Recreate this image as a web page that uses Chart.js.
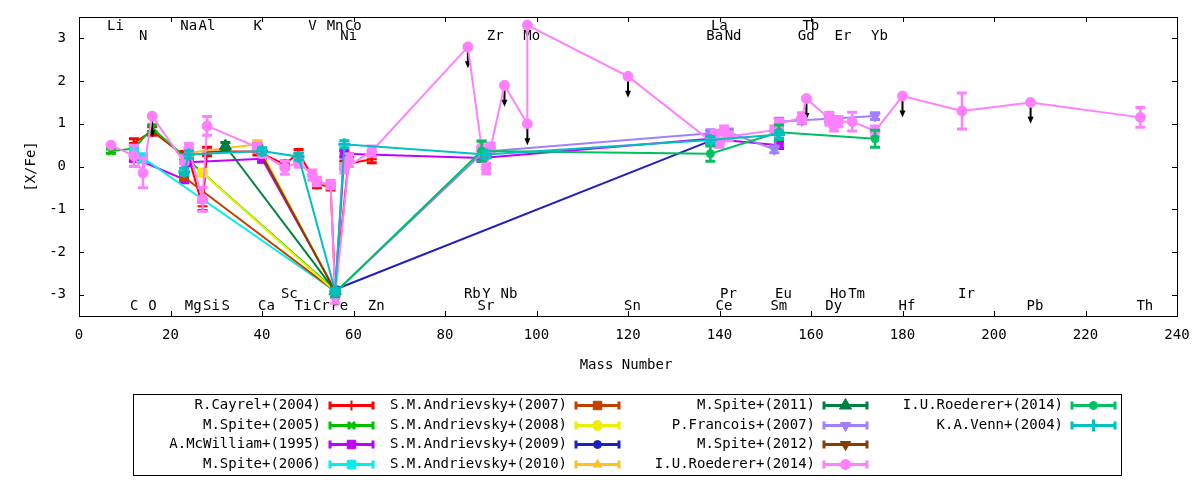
<!DOCTYPE html>
<html lang="en">
<head>
<meta charset="UTF-8">
<title>[X/Fe] vs Mass Number</title>
<script src="https://cdn.jsdelivr.net/npm/chart.js@4.4.1/dist/chart.umd.min.js"></script>
<style>
  body { margin: 0; background: #fff; }
  #wrap { width: 1200px; height: 480px; }
</style>
</head>
<body>
<div id="wrap"><canvas id="grafico" width="1200" height="480"></canvas></div>
<script>
  // axis ticks
  const xTicks = [0, 20, 40, 60, 80, 100, 120, 140, 160, 180, 200, 220, 240];
  const yTicks = [-3, -2, -1, 0, 1, 2, 3];

  // element labels (mass number where the label sits)
  const topRow1Names = ['Li', 'Na', 'Al', 'K', 'V', 'Mn', 'Co', 'La', 'Tb'];
  const topRow1Mass = [7, 23, 27, 39, 51, 55, 59, 139, 159];
  const topRow2Names = ['N', 'Ni', 'Zr', 'Mo', 'Ba', 'Nd', 'Gd', 'Er', 'Yb'];
  const topRow2Mass = [14, 58, 90, 98, 138, 142, 158, 166, 174];
  const botRow1Names = ['Sc', 'Rb', 'Y', 'Nb', 'Pr', 'Eu', 'Ho', 'Tm', 'Ir'];
  const botRow1Mass = [45, 85, 89, 93, 141, 153, 165, 169, 193];
  const botRow2Names = ['C', 'O', 'Mg', 'Si', 'S', 'Ca', 'Ti', 'Cr', 'Fe', 'Zn', 'Sr', 'Sn', 'Ce', 'Sm', 'Dy', 'Hf', 'Pb', 'Th'];
  const botRow2Mass = [12, 16, 24, 28, 32, 40, 48, 52, 56, 64, 88, 120, 140, 152, 164, 180, 208, 232];

  // R.Cayrel+(2004)
  const cayrelMass = [12, 16, 23, 24, 27, 28, 39, 40, 45, 48, 52, 55, 56, 59, 58, 64];
  const cayrelXFe = [0.55, 0.83, 0.25, 0.20, -0.93, 0.35, 0.35, 0.30, 0.05, 0.32, -0.42, -0.47, -2.90, 0.22, 0.05, 0.17];
  const cayrelErr = [0.10, 0.10, 0.10, 0.08, 0.10, 0.10, 0.08, 0.08, 0.08, 0.08, 0.08, 0.08, 0.05, 0.08, 0.08, 0.08];

  // M.Spite+(2005)
  const spite05Mass = [7, 12, 16, 56];
  const spite05XFe = [0.36, 0.42, 0.90, -2.90];
  const spite05Err = [0.05, 0.08, 0.08, 0.05];

  // A.McWilliam+(1995)
  const mcwMass = [12, 23, 24, 40, 56, 58, 88, 138, 153];
  const mcwXFe = [0.20, -0.30, 0.10, 0.18, -2.90, 0.30, 0.20, 0.65, 0.50];
  const mcwErr = [0.08, 0.08, 0.08, 0.08, 0.05, 0.08, 0.08, 0.08, 0.08];

  // M.Spite+(2006)
  const spite06Mass = [12, 14, 56];
  const spite06XFe = [0.38, 0.20, -2.92];
  const spite06Err = [0.10, 0.10, 0.05];

  // S.M.Andrievsky+(2007)
  const andr07Mass = [23, 56];
  const andr07XFe = [-0.25, -2.92];
  const andr07Err = [0.08, 0.05];

  // S.M.Andrievsky+(2008)
  const andr08Mass = [27, 56];
  const andr08XFe = [-0.15, -2.92];
  const andr08Err = [0.08, 0.05];

  // S.M.Andrievsky+(2009)
  const andr09Mass = [56, 138];
  const andr09XFe = [-2.88, 0.60];
  const andr09Err = [0.05, 0.08];

  // S.M.Andrievsky+(2010)
  const andr10Mass = [24, 39, 56];
  const andr10XFe = [0.32, 0.52, -2.92];
  const andr10Err = [0.08, 0.08, 0.05];

  // M.Spite+(2011)
  const spite11Mass = [32, 56];
  const spite11XFe = [0.48, -2.92];
  const spite11Err = [0.08, 0.05];

  // P.Francois+(2007)
  const francoisMass = [56, 88, 89, 138, 142, 152, 153, 158, 164, 174];
  const francoisXFe = [-2.95, 0.30, 0.35, 0.78, 0.80, 0.40, 1.05, 1.08, 1.12, 1.18];
  const francoisErr = [0.05, 0.08, 0.08, 0.08, 0.08, 0.08, 0.08, 0.08, 0.08, 0.08];

  // M.Spite+(2012)
  const spite12Mass = [39, 56];
  const spite12XFe = [0.45, -2.92];
  const spite12Err = [0.08, 0.05];

  // I.U.Roederer+(2014), first star (limits marked with 1)
  const roedAMass = [7, 12, 14, 16, 23, 24, 27, 28, 39, 40, 45, 48, 51, 52, 55, 56, 59, 58, 64, 85,
    88, 89, 90, 93, 98, 98, 120, 138, 139, 140, 141, 142, 152, 153, 158, 159, 164, 165, 166, 169,
    174, 180, 193, 208, 232];
  const roedAXFe = [0.50, 0.25, -0.15, 1.18, 0.10, 0.42, -0.77, 0.95, 0.45, 0.30, -0.03, 0.10, -0.20, -0.35, -0.42, -3.05, 0.15, -0.05, 0.36, 2.80,
    0.45, -0.05, 0.45, 1.90, 1.00, 3.31, 2.11, 0.60, 0.75, 0.55, 0.85, 0.70, 0.85, 1.00, 1.14, 1.59, 1.12, 0.95, 1.05, 1.05,
    0.83, 1.65, 1.30, 1.50, 1.15];
  const roedAErr = [0, 0.25, 0.35, 0, 0.15, 0.12, 0.28, 0.22, 0.08, 0.08, 0.15, 0.12, 0.12, 0.10, 0.10, 0.15, 0.15, 0.10, 0.12, 0,
    0.15, 0.12, 0.10, 0, 0, 0, 0, 0.10, 0.10, 0.10, 0.10, 0.10, 0.10, 0.10, 0.12, 0, 0.15, 0.12, 0.12, 0.22,
    0.12, 0, 0.42, 0, 0.23];
  const roedALimit = [0, 0, 0, 1, 0, 0, 0, 0, 0, 0, 0, 0, 0, 0, 0, 0, 0, 0, 0, 1,
    0, 0, 0, 1, 1, 0, 1, 0, 0, 0, 0, 0, 0, 0, 0, 1, 0, 0, 0, 0,
    0, 1, 0, 1, 0];

  // I.U.Roederer+(2014), second star
  const roedBMass = [56, 88, 138, 153, 174];
  const roedBXFe = [-2.95, 0.36, 0.30, 0.80, 0.65];
  const roedBErr = [0.10, 0.23, 0.18, 0.17, 0.20];

  // K.A.Venn+(2004)
  const vennMass = [23, 24, 40, 48, 56, 58, 89, 138, 153];
  const vennXFe = [-0.12, 0.28, 0.36, 0.23, -2.92, 0.52, 0.28, 0.62, 0.75];
  const vennErr = [0.08, 0.08, 0.08, 0.08, 0.05, 0.08, 0.08, 0.08, 0.08];

  const series = [
    { label: 'R.Cayrel+(2004)', mass: cayrelMass, val: cayrelXFe, err: cayrelErr, cor: '#ff0000', estilo: 'cross', raio: 5, bw: 2 },
    { label: 'M.Spite+(2005)', mass: spite05Mass, val: spite05XFe, err: spite05Err, cor: '#00c000', estilo: 'crossRot', raio: 5, bw: 3 },
    { label: 'A.McWilliam+(1995)', mass: mcwMass, val: mcwXFe, err: mcwErr, cor: '#c000ff', estilo: 'rect', raio: 6 },
    { label: 'M.Spite+(2006)', mass: spite06Mass, val: spite06XFe, err: spite06Err, cor: '#00eeee', estilo: 'rect', raio: 6 },
    { label: 'S.M.Andrievsky+(2007)', mass: andr07Mass, val: andr07XFe, err: andr07Err, cor: '#c04000', estilo: 'rect', raio: 6 },
    { label: 'S.M.Andrievsky+(2008)', mass: andr08Mass, val: andr08XFe, err: andr08Err, cor: '#eeee00', estilo: 'circle', raio: 5 },
    { label: 'S.M.Andrievsky+(2009)', mass: andr09Mass, val: andr09XFe, err: andr09Err, cor: '#2020c0', estilo: 'circle', raio: 4 },
    { label: 'S.M.Andrievsky+(2010)', mass: andr10Mass, val: andr10XFe, err: andr10Err, cor: '#ffc020', estilo: 'triangle', raio: 5 },
    { label: 'M.Spite+(2011)', mass: spite11Mass, val: spite11XFe, err: spite11Err, cor: '#008040', estilo: 'triangle', raio: 7 },
    { label: 'P.Francois+(2007)', mass: francoisMass, val: francoisXFe, err: francoisErr, cor: '#a080ff', estilo: 'triangle', raio: 6, rot: 180 },
    { label: 'M.Spite+(2012)', mass: spite12Mass, val: spite12XFe, err: spite12Err, cor: '#804000', estilo: 'triangle', raio: 6, rot: 180 },
    { label: 'I.U.Roederer+(2014)', mass: roedAMass, val: roedAXFe, err: roedAErr, limit: roedALimit, cor: '#ff80ff', estilo: 'circle', raio: 5 },
    { label: 'I.U.Roederer+(2014)', mass: roedBMass, val: roedBXFe, err: roedBErr, cor: '#00c060', estilo: 'circle', raio: 4 },
    { label: 'K.A.Venn+(2004)', mass: vennMass, val: vennXFe, err: vennErr, cor: '#00c0c0', estilo: 'cross', raio: 6, bw: 3 }
  ];

  const fonte = '14px "DejaVu Sans Mono", monospace';

  // gnuplot style frame with inward ticks, and the element names
  const framePlugin = {
    id: 'frame',
    beforeDatasetsDraw(chart) {
      const { ctx, chartArea: a, scales: { x, y } } = chart;
      ctx.save();
      ctx.strokeStyle = '#000';
      ctx.lineWidth = 1;
      ctx.strokeRect(a.left + 0.5, a.top + 0.5, a.right - a.left, a.bottom - a.top);
      ctx.beginPath();
      xTicks.forEach(v => {
        const px = Math.round(x.getPixelForValue(v)) + 0.5;
        ctx.moveTo(px, a.bottom); ctx.lineTo(px, a.bottom - 5);
        ctx.moveTo(px, a.top); ctx.lineTo(px, a.top + 5);
      });
      yTicks.forEach(v => {
        const py = Math.round(y.getPixelForValue(v)) + 0.5;
        ctx.moveTo(a.left, py); ctx.lineTo(a.left + 5, py);
        ctx.moveTo(a.right, py); ctx.lineTo(a.right - 5, py);
      });
      ctx.stroke();

      ctx.font = fonte;
      ctx.fillStyle = '#000';
      ctx.textAlign = 'left';
      ctx.textBaseline = 'middle';
      const rows = [
        [topRow1Names, topRow1Mass, 3.27],
        [topRow2Names, topRow2Mass, 3.05],
        [botRow1Names, botRow1Mass, -3.0],
        [botRow2Names, botRow2Mass, -3.28]
      ];
      rows.forEach(([names, masses, yv]) => {
        names.forEach((n, i) => {
          ctx.fillText(n, x.getPixelForValue(masses[i]) - 4, y.getPixelForValue(yv));
        });
      });
      ctx.restore();
    },
    afterDraw(chart) {
      const { ctx, chartArea: a } = chart;
      ctx.save();
      ctx.font = fonte;
      ctx.fillStyle = '#000';
      ctx.textAlign = 'center';
      ctx.textBaseline = 'middle';
      ctx.fillText('Mass Number', 626, 365);
      ctx.translate(31, (a.top + a.bottom) / 2);
      ctx.rotate(-Math.PI / 2);
      ctx.fillText('[X/Fe]', 0, 0);
      ctx.restore();
    }
  };

  // error bars and upper-limit arrows, drawn under each dataset
  const errorBarPlugin = {
    id: 'errorBars',
    beforeDatasetDraw(chart, args) {
      const ds = chart.data.datasets[args.index];
      const { ctx, scales: { x, y } } = chart;
      ctx.save();
      if (ds.err) {
        ctx.strokeStyle = ds.borderColor;
        ds.data.forEach((p, i) => {
          const e = ds.err[i];
          if (!e) return;
          const px = x.getPixelForValue(p.x);
          const y1 = y.getPixelForValue(p.y - e);
          const y2 = y.getPixelForValue(p.y + e);
          ctx.lineWidth = 2.5;
          ctx.beginPath();
          ctx.moveTo(px, y1); ctx.lineTo(px, y2);
          ctx.stroke();
          ctx.lineWidth = 3;
          ctx.beginPath();
          ctx.moveTo(px - 5, y1); ctx.lineTo(px + 5, y1);
          ctx.moveTo(px - 5, y2); ctx.lineTo(px + 5, y2);
          ctx.stroke();
        });
      }
      if (ds.limit) {
        ctx.strokeStyle = '#000';
        ctx.fillStyle = '#000';
        ds.data.forEach((p, i) => {
          if (!ds.limit[i]) return;
          const px = x.getPixelForValue(p.x);
          const y0 = y.getPixelForValue(p.y);
          const tip = y.getPixelForValue(p.y - 0.5);
          ctx.lineWidth = 2;
          ctx.beginPath();
          ctx.moveTo(px, y0); ctx.lineTo(px, tip - 4);
          ctx.stroke();
          ctx.beginPath();
          ctx.moveTo(px - 3, tip - 7);
          ctx.lineTo(px + 3, tip - 7);
          ctx.lineTo(px, tip);
          ctx.closePath();
          ctx.fill();
        });
      }
      ctx.restore();
    }
  };

  // legend box in gnuplot layout: text right aligned, then the sample
  const legendColumns = [321, 567, 815, 1063];
  const legendPlugin = {
    id: 'legendBox',
    afterDraw(chart) {
      const ctx = chart.ctx;
      ctx.save();
      ctx.strokeStyle = '#000';
      ctx.lineWidth = 1;
      ctx.strokeRect(133.5, 394.5, 988, 81);
      ctx.font = fonte;
      ctx.textAlign = 'right';
      ctx.textBaseline = 'middle';
      chart.data.datasets.forEach((ds, i) => {
        const col = Math.floor(i / 4), row = i % 4;
        const xt = legendColumns[col];
        const yy = Math.round(405 + row * 19.7) + 0.5;
        ctx.fillStyle = '#000';
        ctx.fillText(ds.label, xt, yy);
        const x1 = xt + 9, x2 = xt + 52;
        ctx.strokeStyle = ds.borderColor;
        ctx.fillStyle = ds.borderColor;
        ctx.lineWidth = 3;
        ctx.beginPath();
        ctx.moveTo(x1, yy); ctx.lineTo(x2, yy);
        ctx.moveTo(x1, yy - 4); ctx.lineTo(x1, yy + 4);
        ctx.moveTo(x2, yy - 4); ctx.lineTo(x2, yy + 4);
        ctx.stroke();
        ctx.lineWidth = ds.pointBorderWidth;
        Chart.helpers.drawPoint(ctx, {
          pointStyle: ds.pointStyle,
          rotation: ds.pointRotation,
          radius: ds.pointRadius,
          borderWidth: ds.pointBorderWidth
        }, (x1 + x2) / 2, yy);
      });
      ctx.restore();
    }
  };

  Chart.defaults.font.family = '"DejaVu Sans Mono", monospace';
  Chart.defaults.font.size = 14;
  Chart.defaults.color = '#000';

  const N = series.length;
  const datasets = series.map((s, i) => ({
    label: s.label,
    data: s.mass.map((m, k) => ({ x: m, y: s.val[k] })),
    err: s.err,
    limit: s.limit,
    borderColor: s.cor,
    backgroundColor: s.cor,
    pointBackgroundColor: s.cor,
    pointBorderColor: s.cor,
    pointStyle: s.estilo,
    pointRadius: s.raio,
    pointRotation: s.rot || 0,
    pointBorderWidth: s.bw || 1,
    borderWidth: 2,
    showLine: true,
    fill: false,
    tension: 0,
    order: N - i
  }));

  // the axis boxes get fixed sizes so the plot frame sits where gnuplot put it
  function fixBox(s, size) {
    if (s.isHorizontal()) s.height = size; else s.width = size;
    s.paddingTop = 0;
    s.paddingBottom = 0;
    s.paddingLeft = 0;
    s.paddingRight = 0;
  }

  const ctx = document.getElementById('grafico').getContext('2d');
  new Chart(ctx, {
    type: 'scatter',
    data: { datasets },
    plugins: [framePlugin, errorBarPlugin, legendPlugin],
    options: {
      responsive: false,
      devicePixelRatio: 1,
      animation: false,
      events: [],
      layout: { padding: { left: 0, top: 17, right: 23, bottom: 0 } },
      plugins: {
        legend: { display: false },
        tooltip: { enabled: false }
      },
      scales: {
        x: {
          type: 'linear',
          min: 0,
          max: 240,
          afterBuildTicks: s => { s.ticks = xTicks.map(v => ({ value: v })); },
          afterFit: s => fixBox(s, 164),
          ticks: { padding: 11, maxRotation: 0, autoSkip: false, callback: v => String(v) },
          grid: { display: false, drawTicks: false },
          border: { display: false }
        },
        y: {
          type: 'linear',
          min: -3.5,
          max: 3.5,
          afterBuildTicks: s => { s.ticks = yTicks.map(v => ({ value: v })); },
          afterFit: s => fixBox(s, 79),
          ticks: { padding: 13, callback: v => String(v) },
          grid: { display: false, drawTicks: false },
          border: { display: false }
        }
      }
    }
  });
</script>
</body>
</html>
